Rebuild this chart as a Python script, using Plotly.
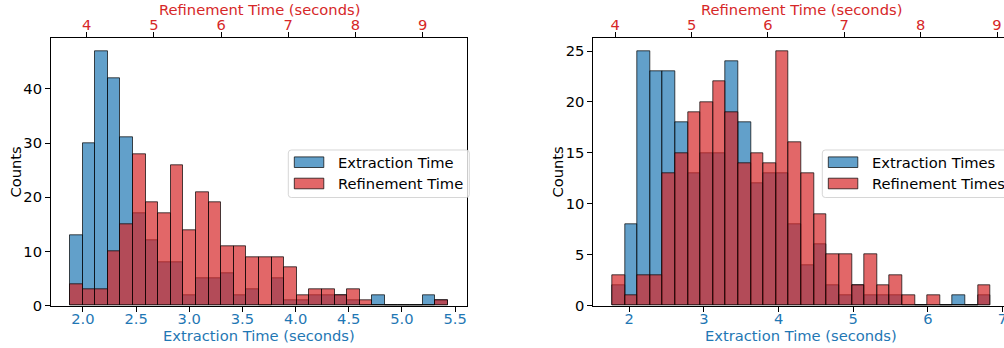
import plotly.graph_objects as go

# ---------------- data ----------------
# Left panel: 30-bin histograms
left_ext_counts = [13, 30, 47, 42, 31, 17, 12, 8, 8, 2, 5, 5, 6, 2, 3, 0, 5, 1, 1, 2, 2, 2, 1, 0, 2, 0, 0, 0, 2, 1]
left_ref_counts = [4, 3, 3, 10, 15, 28, 19, 17, 26, 14, 21, 19, 11, 11, 9, 9, 9, 7, 2, 3, 3, 2, 3, 1, 0, 0, 0, 0, 0, 1]
left_ext_range = [1.878, 5.434]   # min / max extraction time (s)
left_ref_range = [3.752, 9.377]   # min / max refinement time (s)

# Right panel
right_ext_counts = [2, 8, 25, 23, 23, 18, 13, 15, 15, 24, 18, 12, 13, 13, 8, 4, 6, 2, 1, 2, 1, 1, 1, 0, 0, 0, 0, 1, 0, 1]
right_ref_counts = [3, 1, 3, 3, 13, 15, 19, 20, 22, 19, 14, 15, 14, 25, 16, 13, 9, 5, 5, 2, 5, 2, 3, 1, 0, 1, 0, 0, 0, 2]
right_ext_range = [1.772, 6.840]
right_ref_range = [3.961, 8.916]

left_ext_ticks = [2.0, 2.5, 3.0, 3.5, 4.0, 4.5, 5.0, 5.5]
left_ref_ticks = [4, 5, 6, 7, 8, 9]
left_y_ticks = [0, 10, 20, 30, 40]
right_ext_ticks = [2, 3, 4, 5, 6, 7]
right_ref_ticks = [4, 5, 6, 7, 8, 9]
right_y_ticks = [0, 5, 10, 15, 20, 25]

left_labels = ["Extraction Time", "Refinement Time"]
right_labels = ["Extraction Times", "Refinement Times"]

# ---------------- styling ----------------
W, H = 1004, 348
BLUE = "#1f77b4"
RED = "#d62728"
BLUE_FILL = "rgba(31,119,180,0.7)"
RED_FILL = "rgba(214,39,40,0.7)"
EDGE = "rgba(0,0,0,0.7)"
FONT = "DejaVu Sans"
FS = 14.7


def px(x):
    return x / W


def py(y):
    return 1 - y / H


def bins(rng, n):
    w = (rng[1] - rng[0]) / n
    return [rng[0] + w * (i + 0.5) for i in range(n)], w


def padded(rng, frac_visible=1.0):
    span = rng[1] - rng[0]
    lo = rng[0] - 0.05 * span
    hi = rng[1] + 0.05 * span
    return [lo, lo + (hi - lo) * frac_visible]


# panel geometry in pixels
L_X0, L_X1 = 51.0, 467.0
R_X0, R_X1_FULL = 593.3, 1009.5
Y_TOP, Y_BOT = 38.3, 305.7
r_vis = (W - R_X0) / (R_X1_FULL - R_X0)

fig = go.Figure()

lx_e, lw_e = bins(left_ext_range, len(left_ext_counts))
lx_r, lw_r = bins(left_ref_range, len(left_ref_counts))
rx_e, rw_e = bins(right_ext_range, len(right_ext_counts))
rx_r, rw_r = bins(right_ref_range, len(right_ref_counts))

fig.add_trace(go.Bar(x=lx_e, y=left_ext_counts, width=lw_e, name=left_labels[0],
                     marker=dict(color=BLUE_FILL, line=dict(color=EDGE, width=1)),
                     xaxis="x", yaxis="y", showlegend=False))
fig.add_trace(go.Bar(x=lx_r, y=left_ref_counts, width=lw_r, name=left_labels[1],
                     marker=dict(color=RED_FILL, line=dict(color=EDGE, width=1)),
                     xaxis="x3", yaxis="y", showlegend=False))
fig.add_trace(go.Bar(x=rx_e, y=right_ext_counts, width=rw_e, name=right_labels[0],
                     marker=dict(color=BLUE_FILL, line=dict(color=EDGE, width=1)),
                     xaxis="x2", yaxis="y2", showlegend=False))
fig.add_trace(go.Bar(x=rx_r, y=right_ref_counts, width=rw_r, name=right_labels[1],
                     marker=dict(color=RED_FILL, line=dict(color=EDGE, width=1)),
                     xaxis="x4", yaxis="y2", showlegend=False))

axis_common = dict(showgrid=False, zeroline=False, showline=True, linecolor="black", linewidth=1,
                   ticks="outside", ticklen=5, tickwidth=1, tickcolor="black", automargin=False,
                   ticklabeloverflow="allow")

l_ymax = max(max(left_ext_counts), max(left_ref_counts)) * 1.05
r_ymax = max(max(right_ext_counts), max(right_ref_counts)) * 1.05

fig.update_layout(
    template="none",
    width=W, height=H, autosize=False,
    margin=dict(l=0, r=0, t=0, b=0, pad=0, autoexpand=False),
    paper_bgcolor="white", plot_bgcolor="white",
    barmode="overlay", bargap=0,
    font=dict(family=FONT, size=FS, color="black"),
    xaxis=dict(domain=[px(L_X0), px(L_X1)], range=padded(left_ext_range), anchor="y",
               tickvals=left_ext_ticks, ticktext=[f"{v:.1f}" for v in left_ext_ticks],
               tickfont=dict(color=BLUE, size=FS), ticklabelstandoff=-5, **axis_common),
    xaxis3=dict(domain=[px(L_X0), px(L_X1)], range=padded(left_ref_range), anchor="y",
                overlaying="x", side="top",
                tickvals=left_ref_ticks, ticktext=[str(v) for v in left_ref_ticks],
                tickfont=dict(color=RED, size=FS), ticklabelstandoff=-4, **axis_common),
    yaxis=dict(domain=[py(Y_BOT), py(Y_TOP)], range=[0, l_ymax], anchor="x",
               tickvals=left_y_ticks, mirror=True, tickfont=dict(size=FS), **axis_common),
    xaxis2=dict(domain=[px(R_X0), 1.0], range=padded(right_ext_range, r_vis), anchor="y2",
                tickvals=right_ext_ticks, ticktext=[str(v) for v in right_ext_ticks],
                tickfont=dict(color=BLUE, size=FS), ticklabelstandoff=-5, **axis_common),
    xaxis4=dict(domain=[px(R_X0), 1.0], range=padded(right_ref_range, r_vis), anchor="y2",
                overlaying="x2", side="top",
                tickvals=right_ref_ticks, ticktext=[str(v) for v in right_ref_ticks],
                tickfont=dict(color=RED, size=FS), ticklabelstandoff=-4, **axis_common),
    yaxis2=dict(domain=[py(Y_BOT), py(Y_TOP)], range=[0, r_ymax], anchor="x2",
                tickvals=right_y_ticks, tickfont=dict(size=FS), **axis_common),
)

# ---------------- axis titles ----------------
ann = []
for cx, cnt_x in [((L_X0 + L_X1) / 2, 15.5), ((R_X0 + R_X1_FULL) / 2, 557.5)]:
    ann.append(dict(text="Extraction Time (seconds)", x=px(cx), y=py(335.5), xref="paper", yref="paper",
                    showarrow=False, xanchor="center", yanchor="middle",
                    font=dict(color=BLUE, size=FS, family=FONT)))
    ann.append(dict(text="Refinement Time (seconds)", x=px(cx), y=py(9.5), xref="paper", yref="paper",
                    showarrow=False, xanchor="center", yanchor="middle",
                    font=dict(color=RED, size=FS, family=FONT)))
    ann.append(dict(text="Counts", x=px(cnt_x), y=py((Y_TOP + Y_BOT) / 2), xref="paper", yref="paper",
                    showarrow=False, xanchor="center", yanchor="middle", textangle=-90,
                    font=dict(color="black", size=FS, family=FONT)))

# ---------------- legends (matplotlib style boxes) ----------------
shapes = []


def rounded_rect(x0, y0, x1, y1, r):
    pts = [
        f"M {px(x0 + r)},{py(y0)}",
        f"L {px(x1 - r)},{py(y0)}",
        f"Q {px(x1)},{py(y0)} {px(x1)},{py(y0 + r)}",
        f"L {px(x1)},{py(y1 - r)}",
        f"Q {px(x1)},{py(y1)} {px(x1 - r)},{py(y1)}",
        f"L {px(x0 + r)},{py(y1)}",
        f"Q {px(x0)},{py(y1)} {px(x0)},{py(y1 - r)}",
        f"L {px(x0)},{py(y0 + r)}",
        f"Q {px(x0)},{py(y0)} {px(x0 + r)},{py(y0)}",
        "Z",
    ]
    return " ".join(pts)


def add_legend(bx0, bx1, labels):
    by0, by1 = 150.0, 197.5
    shapes.append(dict(type="path", path=rounded_rect(bx0, by0, bx1, by1, 3), xref="paper", yref="paper",
                       fillcolor="rgba(255,255,255,0.8)", line=dict(color="rgba(204,204,204,0.8)", width=1),
                       layer="above"))
    for (yc, fill, lab) in [(162.2, BLUE_FILL, labels[0]), (183.5, RED_FILL, labels[1])]:
        shapes.append(dict(type="rect", x0=px(bx0 + 6), x1=px(bx0 + 35.5), y0=py(yc - 5.3), y1=py(yc + 5.3),
                           xref="paper", yref="paper", fillcolor=fill, line=dict(color=EDGE, width=1),
                           layer="above"))
        ann.append(dict(text=lab, x=px(bx0 + 47.5), y=py(yc), xref="paper", yref="paper", showarrow=False,
                        xanchor="left", yanchor="middle", font=dict(color="black", size=FS, family=FONT)))


add_legend(288.3, 469.3, left_labels)
add_legend(822.3, 1010.0, right_labels)

fig.update_layout(annotations=ann, shapes=shapes)

fig.write_html("out.html", config={"responsive": False, "displayModeBar": False},
               post_script="document.body.style.margin='0';document.body.style.overflow='hidden';")
